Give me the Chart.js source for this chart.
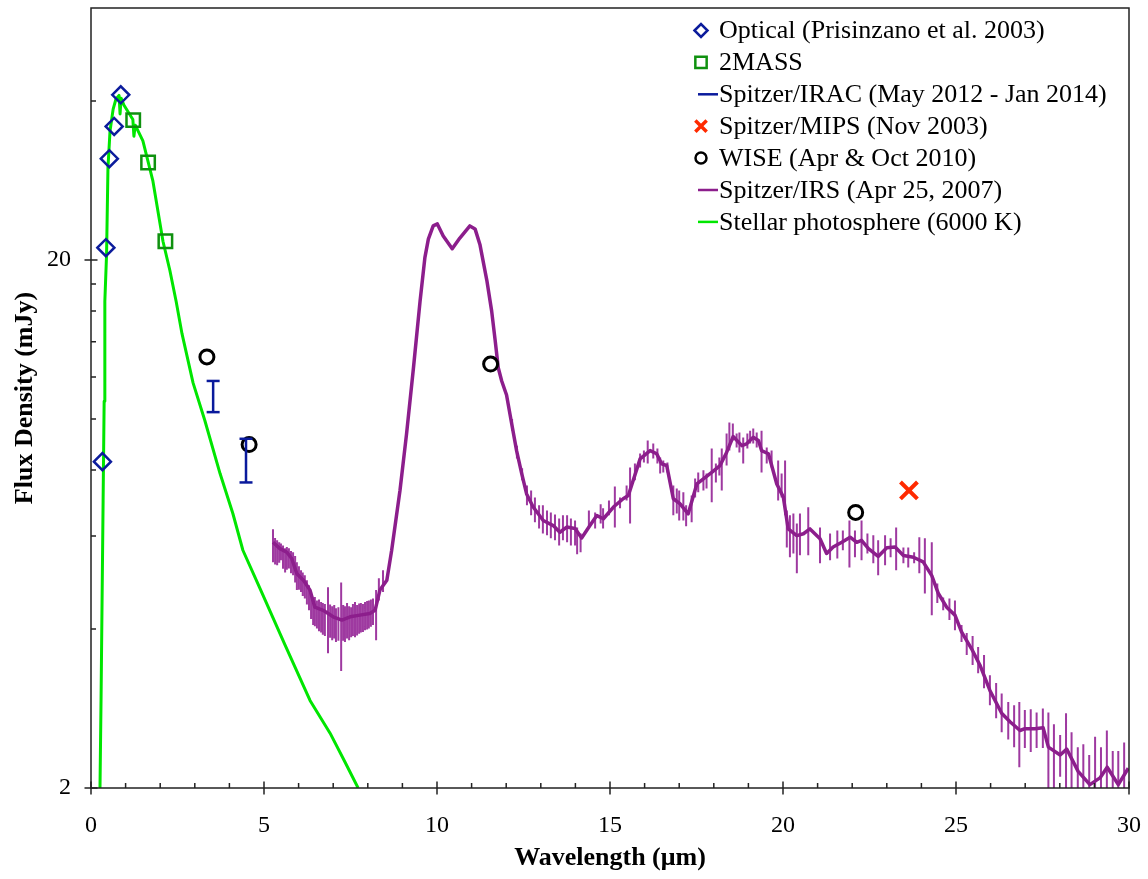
<!DOCTYPE html>
<html>
<head>
<meta charset="utf-8">
<script src="https://cdn.jsdelivr.net/npm/chart.js@4.4.0/dist/chart.umd.min.js"></script>
<style>
  html, body { margin: 0; padding: 0; background: #fff; }
</style>
</head>
<body>
<canvas id="sed" width="1148" height="879"></canvas>
<script>
// photometry (wavelength in micron, flux in mJy)
const opticalX = [0.33, 0.43, 0.53, 0.67, 0.86];
const opticalY = [8.30, 21.1, 31.1, 35.8, 41.1];
const tmassX = [1.22, 1.65, 2.15];
const tmassY = [36.8, 30.6, 21.7];
const iracX = [3.53, 4.48];
const iracLo = [10.3, 7.58];
const iracHi = [11.8, 9.17];
const mipsX = [23.64];
const mipsY = [7.32];
const wiseX = [3.35, 4.57, 11.55, 22.1];
const wiseY = [13.1, 8.94, 12.7, 6.65];

// stellar photosphere model
const photX = [0.26, 0.29, 0.35, 0.38, 0.40, 0.45, 0.49, 0.55, 0.64, 0.72, 0.81, 0.84, 0.87, 0.95,
  1.21, 1.24, 1.28, 1.50, 1.79, 2.08, 2.28, 2.46, 2.63, 2.95, 3.29, 3.73, 4.10, 4.39, 4.88, 5.61,
  6.33, 6.91, 7.34, 7.72];
const photY = [2.0, 2.93, 7.00, 10.8, 16.7, 20.5, 29.9, 35.1, 38.6, 40.3, 41.0, 37.8, 40.5, 39.3,
  36.9, 34.3, 36.0, 33.6, 28.2, 21.7, 19.1, 16.7, 14.5, 11.7, 9.93, 7.88, 6.62, 5.64, 4.78, 3.73,
  2.93, 2.54, 2.24, 2.0];

// IRS spectrum
const irsX = [5.26, 5.46, 5.66, 5.80, 5.95, 6.14, 6.33, 6.47, 6.71, 7.00,
  7.25, 7.49, 7.77, 8.06, 8.21, 8.35, 8.55, 8.69, 8.93, 9.12,
  9.32, 9.51, 9.65, 9.75, 9.89, 10.01, 10.18, 10.44, 10.66, 10.95,
  11.10, 11.24, 11.44, 11.58, 11.68, 11.77, 11.87, 12.01, 12.16, 12.30,
  12.45, 12.59, 12.78, 13.07, 13.36, 13.55, 13.75, 13.99, 14.18, 14.42,
  14.62, 14.81, 15.10, 15.38, 15.53, 15.87, 16.16, 16.35, 16.49, 16.64,
  16.83, 17.02, 17.26, 17.51, 17.70, 17.94, 18.18, 18.37, 18.56, 18.81,
  18.95, 19.14, 19.29, 19.38, 19.58, 19.82, 20.01, 20.15, 20.40, 20.59,
  20.78, 21.07, 21.26, 21.45, 21.70, 21.94, 22.13, 22.27, 22.47, 22.75,
  23.00, 23.24, 23.48, 23.77, 24.05, 24.30, 24.49, 24.73, 24.97, 25.16,
  25.45, 25.69, 25.98, 26.32, 26.56, 26.85, 26.99, 27.28, 27.52, 27.67,
  28.01, 28.20, 28.53, 28.87, 29.16, 29.37, 29.69, 29.98];
const irsY = [5.84, 5.68, 5.59, 5.44, 5.09, 4.95, 4.74, 4.40, 4.34, 4.22,
  4.16, 4.22, 4.25, 4.28, 4.34, 4.74, 4.95, 5.64, 7.32, 9.37,
  12.5, 16.7, 20.2, 21.9, 23.2, 23.4, 22.2, 21.0, 22.0, 23.2,
  22.9, 21.4, 18.3, 16.0, 14.1, 12.5, 11.8, 11.1, 9.78, 8.71,
  7.87, 7.21, 6.81, 6.42, 6.28, 6.10, 6.24, 6.20, 5.95, 6.28,
  6.56, 6.47, 6.81, 7.06, 7.16, 8.40, 8.71, 8.59, 8.22, 8.16,
  7.06, 6.91, 6.61, 7.53, 7.70, 7.92, 8.16, 8.64, 9.26, 8.90,
  8.97, 9.23, 9.10, 8.71, 8.59, 7.53, 7.11, 6.19, 6.01, 6.06,
  6.19, 5.93, 5.56, 5.72, 5.84, 5.97, 5.84, 5.89, 5.68, 5.49,
  5.70, 5.72, 5.51, 5.47, 5.36, 5.05, 4.67, 4.40, 4.25, 3.95,
  3.67, 3.42, 3.06, 2.77, 2.67, 2.57, 2.59, 2.59, 2.60, 2.39,
  2.31, 2.37, 2.15, 2.03, 2.09, 2.19, 2.03, 2.18];

// IRS error bars (upper / lower ends)
const irsErrX = [5.26, 5.32, 5.38, 5.44, 5.49, 5.55, 5.61, 5.66, 5.72, 5.78, 5.84, 5.90, 5.95, 6.01,
  6.07, 6.12, 6.18, 6.24, 6.30, 6.36, 6.42, 6.47, 6.53, 6.59, 6.65, 6.70, 6.76, 6.85, 6.91, 6.97,
  7.03, 7.08, 7.15, 7.23, 7.29, 7.34, 7.40, 7.46, 7.52, 7.57, 7.63, 7.69, 7.75, 7.80, 7.86, 7.92,
  7.98, 8.03, 8.09, 8.15, 8.24, 8.32, 8.44,
  12.17, 12.31, 12.46, 12.60, 12.72, 12.83, 12.95, 13.06, 13.18, 13.29, 13.41, 13.53, 13.64, 13.76,
  13.87, 13.99, 14.05, 14.15,
  14.39, 14.57, 14.73, 14.80, 14.97, 15.14, 15.29, 15.48, 15.58, 15.72, 15.87, 15.98, 16.09, 16.25,
  16.37, 16.45, 16.54, 16.66, 16.83, 16.93, 17.00, 17.12, 17.20, 17.36, 17.46, 17.55, 17.70, 17.79,
  17.94, 18.06, 18.16, 18.23, 18.37, 18.45, 18.55, 18.66, 18.74, 18.85, 18.97, 19.05, 19.14, 19.24,
  19.38, 19.53, 19.67, 19.86, 19.96, 20.06, 20.11, 20.20, 20.30, 20.40, 20.49, 20.73,
  21.07, 21.36, 21.57, 21.73, 21.92, 22.08, 22.27, 22.44, 22.61, 22.75, 22.95, 23.11, 23.27, 23.48,
  23.62, 23.79, 23.94, 24.10,
  24.30, 24.46, 24.63, 24.81, 24.97, 25.16, 25.31, 25.48, 25.64, 25.81, 25.98, 26.16, 26.32, 26.51,
  26.68, 26.83, 26.99, 27.16, 27.33, 27.51, 27.67, 27.83, 28.01, 28.18, 28.34, 28.52, 28.68, 28.85,
  29.02, 29.19, 29.36, 29.53, 29.69, 29.86, 30.03, 30.22];
const irsErrHi = [6.18, 5.95, 5.89, 5.84, 5.81, 5.76, 5.69, 5.72, 5.69, 5.62, 5.59, 5.50, 5.35, 5.26,
  5.17, 5.12, 5.06, 4.95, 4.84, 4.70, 4.57, 4.60, 4.53, 4.55, 4.50, 4.48, 4.46, 4.80, 4.45, 4.42,
  4.44, 4.38, 4.40, 4.90, 4.44, 4.42, 4.48, 4.42, 4.40, 4.46, 4.50, 4.44, 4.47, 4.48, 4.46, 4.50,
  4.52, 4.53, 4.55, 4.57, 4.74, 4.99, 5.17,
  10.0, 8.90, 8.06, 7.48, 7.32, 7.10, 6.86, 6.86, 6.71, 6.65, 6.59, 6.48, 6.57, 6.57,
  6.48, 6.42, 6.23, 6.07,
  6.71, 6.65, 6.89, 6.77, 7.01, 7.45, 7.10, 7.48, 8.09, 8.23, 8.60, 8.71, 9.10, 8.98,
  8.79, 8.45, 8.34, 8.27, 7.48, 7.38, 7.32, 7.26, 6.86, 7.16, 7.71, 7.92, 7.99, 7.88,
  8.79, 8.23, 8.45, 8.79, 9.38, 9.84, 9.80, 9.38, 9.42, 9.22, 9.38, 9.50, 9.59, 9.42,
  9.50, 8.83, 8.71, 8.34, 7.88, 8.34, 6.71, 6.57, 6.62, 6.34, 6.62, 6.80,
  6.23, 6.07, 6.15, 6.15, 6.42, 6.15, 6.42, 6.07, 6.02, 5.89, 6.02, 5.94, 6.23, 5.71,
  5.71, 5.59, 5.97, 5.94,
  5.84, 4.88, 4.59, 4.57, 4.53, 4.07, 3.93, 3.88, 3.70, 3.57, 3.27, 3.16, 3.02, 2.91,
  2.87, 2.91, 2.81, 2.82, 2.78, 2.83, 2.78, 2.64, 2.52, 2.77, 2.55, 2.39, 2.42, 2.31,
  2.50, 2.39, 2.57, 2.35, 2.35, 2.44, 2.50, 2.45];
const irsErrLo = [5.35, 5.30, 5.28, 5.34, 5.40, 5.20, 5.12, 5.18, 5.21, 5.10, 5.06, 4.90, 4.74, 4.75,
  4.70, 4.62, 4.57, 4.45, 4.34, 4.18, 4.07, 4.05, 4.01, 3.96, 3.94, 3.90, 3.88, 3.60, 3.85, 3.81,
  3.84, 3.78, 3.80, 3.33, 3.80, 3.78, 3.84, 3.81, 3.86, 3.88, 3.86, 3.89, 3.92, 3.94, 3.95, 3.98,
  3.99, 4.01, 4.04, 4.07, 3.81, 4.53, 4.70,
  9.50, 8.41, 7.65, 6.86, 6.57, 6.37, 6.20, 6.07, 6.02, 5.94, 5.89, 5.76, 5.89, 5.84,
  5.76, 5.76, 5.54, 5.59,
  6.23, 6.20, 6.34, 6.20, 6.57, 6.23, 6.77, 7.01, 6.34, 7.65, 8.09, 8.27, 8.23, 8.41,
  8.23, 7.88, 7.92, 7.92, 6.57, 6.62, 6.42, 6.42, 6.26, 6.37, 7.10, 7.26, 7.32, 7.38,
  6.95, 7.58, 7.81, 7.32, 8.16, 8.71, 9.10, 8.83, 8.64, 8.23, 8.79, 8.98, 8.98, 8.83,
  7.92, 8.23, 8.09, 7.01, 7.10, 6.57, 5.71, 5.47, 5.56, 5.10, 5.52, 5.52,
  5.33, 5.40, 5.44, 5.64, 5.23, 5.47, 5.40, 5.56, 5.33, 5.06, 5.28, 5.47, 5.17, 5.33,
  5.23, 5.33, 5.10, 4.67,
  4.25, 4.48, 4.34, 4.16, 3.98, 3.78, 3.57, 3.42, 3.30, 3.09, 2.87, 2.71, 2.55, 2.47,
  2.39, 2.19, 2.38, 2.34, 2.38, 2.38, 1.9, 1.9, 2.10, 1.9, 1.9, 1.9, 1.9, 1.9,
  1.9, 1.9, 1.9, 1.9, 1.9, 1.9, 1.9, 1.9];

const yTickValues = [2, 4, 6, 8, 10, 12, 14, 16, 18, 20, 40];
const yLabelled = [2, 20];

const FONT = '"Liberation Serif", "Times New Roman", serif';

const pts = (xs, ys) => xs.map((x, i) => ({ x, y: ys[i] }));
const bars = (xs, lo, hi) => xs.flatMap((x, i) => [{ x, y: lo[i] }, { x, y: hi[i] }, { x, y: null }]);

const legendSize = { rectRot: 6.5, rect: 8, crossRot: 8, circle: 5.5, line: 10 };

const frameAndLegend = {
  id: 'frameAndLegend',
  afterDraw(chart) {
    const { ctx, chartArea: a, scales: { x, y } } = chart;
    ctx.save();
    ctx.strokeStyle = '#222';
    ctx.lineWidth = 1.5;
    ctx.strokeRect(a.left, a.top, a.right - a.left, a.bottom - a.top);
    ctx.beginPath();
    for (let v = 0; v <= 30; v++) {
      const px = x.getPixelForValue(v);
      if (v % 5 === 0) { ctx.moveTo(px, a.bottom - 6.5); ctx.lineTo(px, a.bottom + 6.5); }
      else { ctx.moveTo(px, a.bottom - 5); ctx.lineTo(px, a.bottom); }
    }
    yTickValues.forEach(v => {
      const py = y.getPixelForValue(v);
      if (yLabelled.includes(v)) { ctx.moveTo(a.left - 6.5, py); ctx.lineTo(a.left + 6.5, py); }
      else { ctx.moveTo(a.left, py); ctx.lineTo(a.left + 5, py); }
    });
    ctx.stroke();

    // legend inside the plot, top right
    const items = chart.data.datasets.filter(d => d.label);
    ctx.font = '26px ' + FONT;
    ctx.textBaseline = 'middle';
    ctx.textAlign = 'left';
    items.forEach((d, i) => {
      const ry = 30.5 + i * 31.9;
      const style = d.pointStyle;
      const mx = style === 'line' ? 708 : 701;
      ctx.strokeStyle = d.borderColor;
      ctx.fillStyle = 'rgba(0,0,0,0)';
      ctx.lineWidth = style === 'crossRot' ? 3.5 : 2.5;
      Chart.helpers.drawPoint(ctx, { pointStyle: style, radius: legendSize[style], rotation: 0, borderWidth: ctx.lineWidth }, mx, ry);
      ctx.fillStyle = '#000';
      ctx.fillText(d.label, 719, ry + 1);
    });
    ctx.restore();
  }
};

new Chart(document.getElementById('sed'), {
  type: 'scatter',
  data: {
    datasets: [
      {
        label: 'Optical (Prisinzano et al. 2003)',
        data: pts(opticalX, opticalY),
        pointStyle: 'rectRot', pointRadius: 8.5, pointBorderWidth: 2.5,
        borderColor: '#0c1c9c', backgroundColor: 'rgba(0,0,0,0)'
      },
      {
        label: '2MASS',
        data: pts(tmassX, tmassY),
        pointStyle: 'rect', pointRadius: 9.5, pointBorderWidth: 2.5,
        borderColor: '#0f910f', backgroundColor: 'rgba(0,0,0,0)'
      },
      {
        label: 'Spitzer/IRAC (May 2012 - Jan 2014)',
        data: bars(iracX, iracLo, iracHi),
        showLine: true, spanGaps: false,
        pointStyle: 'line', pointRadius: 6.5, pointBorderWidth: 2.5, borderWidth: 2.5,
        borderColor: '#0a1a9c', backgroundColor: 'rgba(0,0,0,0)'
      },
      {
        label: 'Spitzer/MIPS (Nov 2003)',
        data: pts(mipsX, mipsY),
        pointStyle: 'crossRot', pointRadius: 12, pointBorderWidth: 4,
        borderColor: '#ff2a00', backgroundColor: 'rgba(0,0,0,0)'
      },
      {
        label: 'WISE (Apr & Oct 2010)',
        data: pts(wiseX, wiseY),
        pointStyle: 'circle', pointRadius: 7, pointBorderWidth: 3,
        borderColor: '#000000', backgroundColor: 'rgba(0,0,0,0)'
      },
      {
        label: 'Spitzer/IRS (Apr 25, 2007)',
        data: pts(irsX, irsY),
        showLine: true, pointRadius: 0, pointStyle: 'line',
        borderWidth: 3.5, borderColor: '#8c1e8c', borderJoinStyle: 'round'
      },
      {
        data: bars(irsErrX, irsErrLo, irsErrHi),
        showLine: true, spanGaps: false, pointRadius: 0,
        borderWidth: 2, borderColor: 'rgba(148,36,150,0.9)',
        clip: { left: 0, top: 0, right: 12, bottom: 0 }
      },
      {
        label: 'Stellar photosphere (6000 K)',
        data: pts(photX, photY),
        showLine: true, pointRadius: 0, pointStyle: 'line',
        borderWidth: 3, borderColor: '#00e600', borderJoinStyle: 'round'
      }
    ]
  },
  options: {
    responsive: false,
    animation: false,
    layout: { autoPadding: false, padding: { left: 0, right: 19, top: 8, bottom: 0 } },
    plugins: { legend: { display: false }, tooltip: { enabled: false } },
    scales: {
      x: {
        type: 'linear', min: 0, max: 30,
        grid: { display: false, drawTicks: false }, border: { display: false },
        ticks: { stepSize: 5, padding: 23, color: '#000', font: { family: FONT, size: 24 } },
        title: { display: true, text: 'Wavelength (μm)', color: '#000', padding: { top: 0, bottom: 5 },
          font: { family: FONT, size: 26, weight: 'bold' } },
        afterFit: s => { s.height = 91; s.paddingLeft = 0; s.paddingRight = 0; }
      },
      y: {
        type: 'logarithmic', min: 2, max: 60,
        grid: { display: false, drawTicks: false }, border: { display: false },
        afterBuildTicks: s => { s.ticks = yTickValues.map(v => ({ value: v })); },
        ticks: { autoSkip: false, padding: 20, color: '#000', font: { family: FONT, size: 24 },
          callback: v => yLabelled.includes(v) ? String(v) : '' },
        title: { display: true, text: 'Flux Density (mJy)', color: '#000', padding: { top: 10, bottom: 0 },
          font: { family: FONT, size: 26, weight: 'bold' } },
        afterFit: s => { s.width = 91; s.paddingTop = 0; s.paddingBottom = 0; }
      }
    }
  },
  plugins: [frameAndLegend]
});
</script>
</body>
</html>
